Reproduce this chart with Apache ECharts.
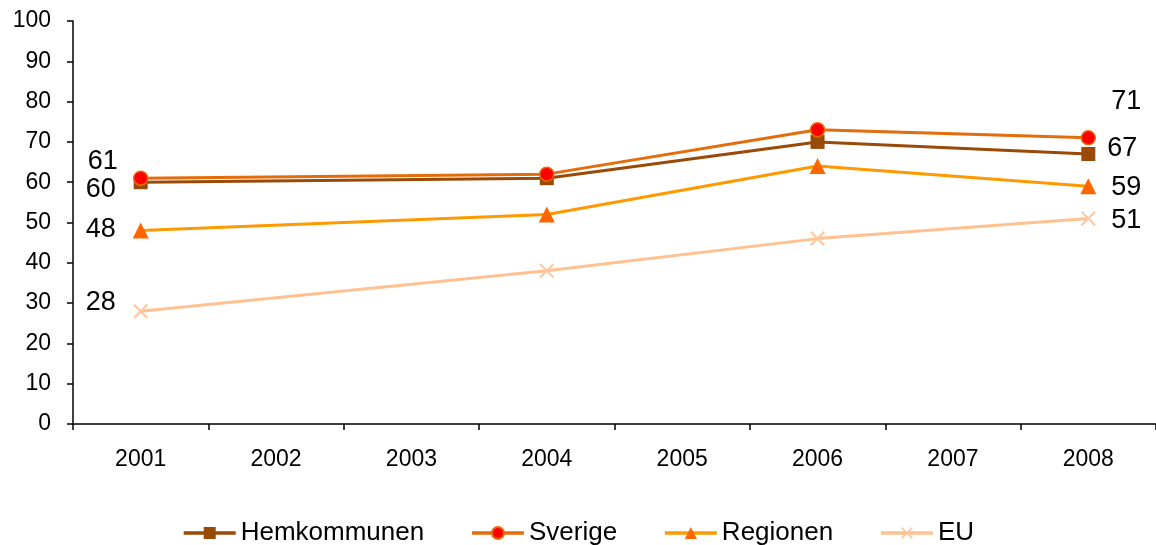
<!DOCTYPE html>
<html><head><meta charset="utf-8">
<script src="https://cdn.jsdelivr.net/npm/echarts@6/dist/echarts.min.js"></script>
<style>html,body{margin:0;padding:0;background:#fff}#c{width:1156px;height:545px}</style>
</head><body><div id="c"></div>
<script>
const categories = ['2001','2002','2003','2004','2005','2006','2007','2008'];
const hemkommunen = [60, null, null, 61, null, 70, null, 67];
const sverige = [61, null, null, 62, null, 73, null, 71];
const regionen = [48, null, null, 52, null, 64, null, 59];
const eu = [28, null, null, 38, null, 46, null, 51];
const yTicks = [0,10,20,30,40,50,60,70,80,90,100];
const seriesNames = ['Hemkommunen','Sverige','Regionen','EU'];

const font = 'Liberation Sans, Arial, sans-serif';
function withLabels(arr, leftOff, rightOff) {
  const last = arr.length - 1;
  return arr.map((v, i) => {
    if (v === null) return null;
    if (i === 0 || i === last) {
      return { value: v, label: { show: true, position: 'inside', offset: i === 0 ? leftOff : rightOff,
        fontSize: 27, color: '#000', fontFamily: font } };
    }
    return v;
  });
}
const xPath = 'path://M2,0 L10,8 L18,0 L20,2 L12,10 L20,18 L18,20 L10,12 L2,20 L0,18 L8,10 L0,2 Z';
const chart = echarts.init(document.getElementById('c'));
chart.setOption({
  animation: false,
  textStyle: { fontFamily: font },
  grid: { left: 73, right: -4, top: 21, bottom: 121, containLabel: false },
  xAxis: {
    type: 'category', data: categories, boundaryGap: true,
    axisLine: { lineStyle: { color: '#000', width: 1.5 } },
    axisTick: { show: true, length: 6, lineStyle: { color: '#000', width: 1.5 } },
    axisLabel: { color: '#000', fontSize: 23, margin: 24, fontFamily: font }
  },
  yAxis: {
    type: 'value', min: 0, max: 100, interval: 10,
    axisLine: { show: true, lineStyle: { color: '#000', width: 1.5 } },
    axisTick: { show: true, length: 6, lineStyle: { color: '#000', width: 1.5 } },
    splitLine: { show: false },
    axisLabel: { color: '#000', fontSize: 23, margin: 22, fontFamily: font,
      formatter: v => yTicks.includes(v) ? String(v) : '' }
  },
  legend: {
    bottom: -6, left: 'center', itemWidth: 52, itemHeight: 15, itemGap: 46,
    lineStyle: { width: 3 },
    textStyle: { fontSize: 26, color: '#000', fontFamily: font },
    data: seriesNames.map(n => ({ name: n, lineStyle: { width: 3.5 } }))
  },
  series: [
    { name: seriesNames[0], type: 'line', connectNulls: true, data: withLabels(hemkommunen, [-40, 7], [34, -5]),
      symbol: 'rect', symbolSize: 14, lineStyle: { color: '#9A4A08', width: 3 },
      itemStyle: { color: '#9A4A08' } },
    { name: seriesNames[1], type: 'line', connectNulls: true, data: withLabels(sverige, [-38, -17], [38, -36]),
      symbol: 'circle', symbolSize: 14, lineStyle: { color: '#E46C0A', width: 3 },
      itemStyle: { color: '#FF0000', borderColor: '#E46C0A', borderWidth: 1.5 } },
    { name: seriesNames[2], type: 'line', connectNulls: true, data: withLabels(regionen, [-40, -1], [38, 1]),
      symbol: 'triangle', symbolSize: 16, lineStyle: { color: '#FF9900', width: 3 },
      itemStyle: { color: '#FF6600' } },
    { name: seriesNames[3], type: 'line', connectNulls: true, data: withLabels(eu, [-40, -9], [38, 2]),
      symbol: xPath, symbolSize: 15, lineStyle: { color: '#FFC190', width: 3 },
      itemStyle: { color: '#FFC8A0' } }
  ]
});
</script></body></html>
